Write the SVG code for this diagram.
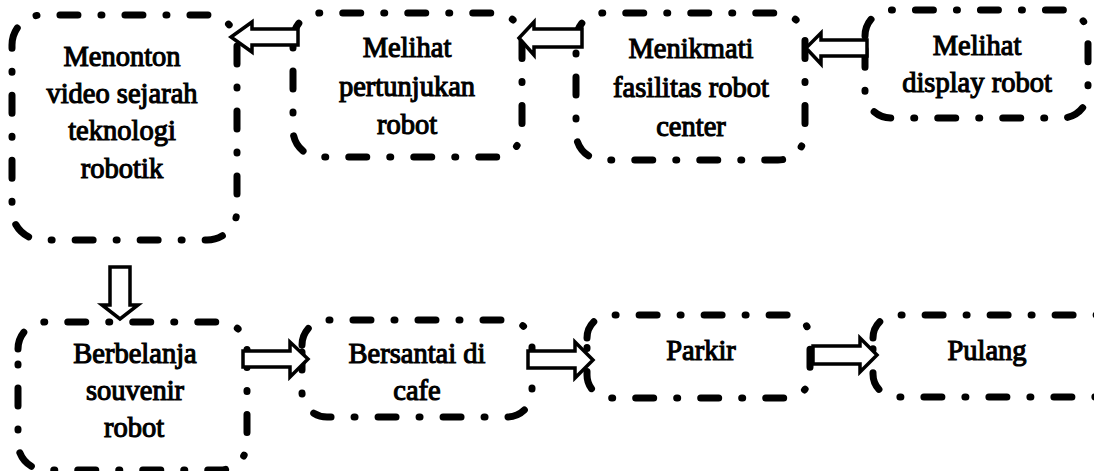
<svg xmlns="http://www.w3.org/2000/svg" width="1094" height="471" viewBox="0 0 1094 471">
<style>
.box{fill:#fff;stroke:#000;stroke-width:7;stroke-linecap:round;stroke-dasharray:18 23 1 23;}
.arr{fill:#fff;stroke:#000;stroke-width:3.5;stroke-linejoin:miter;}
.t{font-family:'Liberation Serif','Times New Roman',Times,serif;font-size:28.5px;fill:#000;stroke:#000;stroke-width:1.1;text-anchor:middle;}
</style>
<rect width="1094" height="471" fill="#fff"/>
<g id="n1">
<path class="box" d="M12,45 A30,30 0 0 1 42,15 H207 A30,30 0 0 1 237,45 V210 A30,30 0 0 1 207,240 H42 A30,30 0 0 1 12,210 Z"/>
<text class="t" x="122" y="66">Menonton</text>
<text class="t" x="122" y="103">video sejarah</text>
<text class="t" x="122" y="140">teknologi</text>
<text class="t" x="122" y="178">robotik</text>
</g>
<g id="n2">
<path class="box" d="M293,40 A27,27 0 0 1 320,13 H495 A27,27 0 0 1 522,40 V130 A27,27 0 0 1 495,157 H320 A27,27 0 0 1 293,130 Z"/>
<text class="t" x="407" y="57">Melihat</text>
<text class="t" x="407" y="96">pertunjukan</text>
<text class="t" x="407" y="134">robot</text>
</g>
<g id="n3">
<path class="box" d="M576,40 A27,27 0 0 1 603,13 H778 A27,27 0 0 1 805,40 V133 A27,27 0 0 1 778,160 H603 A27,27 0 0 1 576,133 Z"/>
<text class="t" x="691" y="58">Menikmati</text>
<text class="t" x="691" y="97">fasilitas robot</text>
<text class="t" x="691" y="136">center</text>
</g>
<g id="n4">
<path class="box" d="M865,36 A26,26 0 0 1 891,10 H1062 A26,26 0 0 1 1088,36 V92 A26,26 0 0 1 1062,118 H891 A26,26 0 0 1 865,92 Z"/>
<text class="t" x="977" y="55">Melihat</text>
<text class="t" x="977" y="92">display robot</text>
</g>
<g id="n5">
<path class="box" d="M18,349 A27,27 0 0 1 45,322 H220 A27,27 0 0 1 247,349 V443 A27,27 0 0 1 220,470 H45 A27,27 0 0 1 18,443 Z"/>
<text class="t" x="135" y="363">Berbelanja</text>
<text class="t" x="135" y="400">souvenir</text>
<text class="t" x="134" y="437">robot</text>
</g>
<g id="n6">
<path class="box" d="M302,345 A25,25 0 0 1 327,320 H507 A25,25 0 0 1 532,345 V392 A25,25 0 0 1 507,417 H327 A25,25 0 0 1 302,392 Z"/>
<text class="t" x="417" y="363">Bersantai di</text>
<text class="t" x="417" y="400">cafe</text>
</g>
<g id="n7">
<path class="box" d="M587,338 A23,23 0 0 1 610,315 H787 A23,23 0 0 1 810,338 V375 A23,23 0 0 1 787,398 H610 A23,23 0 0 1 587,375 Z"/>
<text class="t" x="701" y="360">Parkir</text>
</g>
<g id="n8">
<path class="box" d="M873,338 A23,23 0 0 1 896,315 H1120 V397 H896 A23,23 0 0 1 873,374 Z"/>
<text class="t" x="987" y="360">Pulang</text>
</g>
<g id="connectors">
<path class="arr" d="M298,29 H252 V22 L231,37 L252,52 V45 H298 Z"/>
<path class="arr" d="M582,29 H534 V22 L519,38 L534,55 V47 H582 Z"/>
<path class="arr" d="M867,40 H821 V33 L806,48 L821,64 V56 H867 Z"/>
<path class="arr" d="M110,267 H130 V305 H138 L120,319 L102,305 H110 Z"/>
<path class="arr" d="M243,351 H290 V342 L308,359 L290,377 V367 H243 Z"/>
<path class="arr" d="M528,351 H575 V342 L593,360 L575,378 V368 H528 Z"/>
<path class="arr" d="M813,346 H860 V338 L877,355 L860,372 V364 H813 Z"/>
</g>
</svg>
